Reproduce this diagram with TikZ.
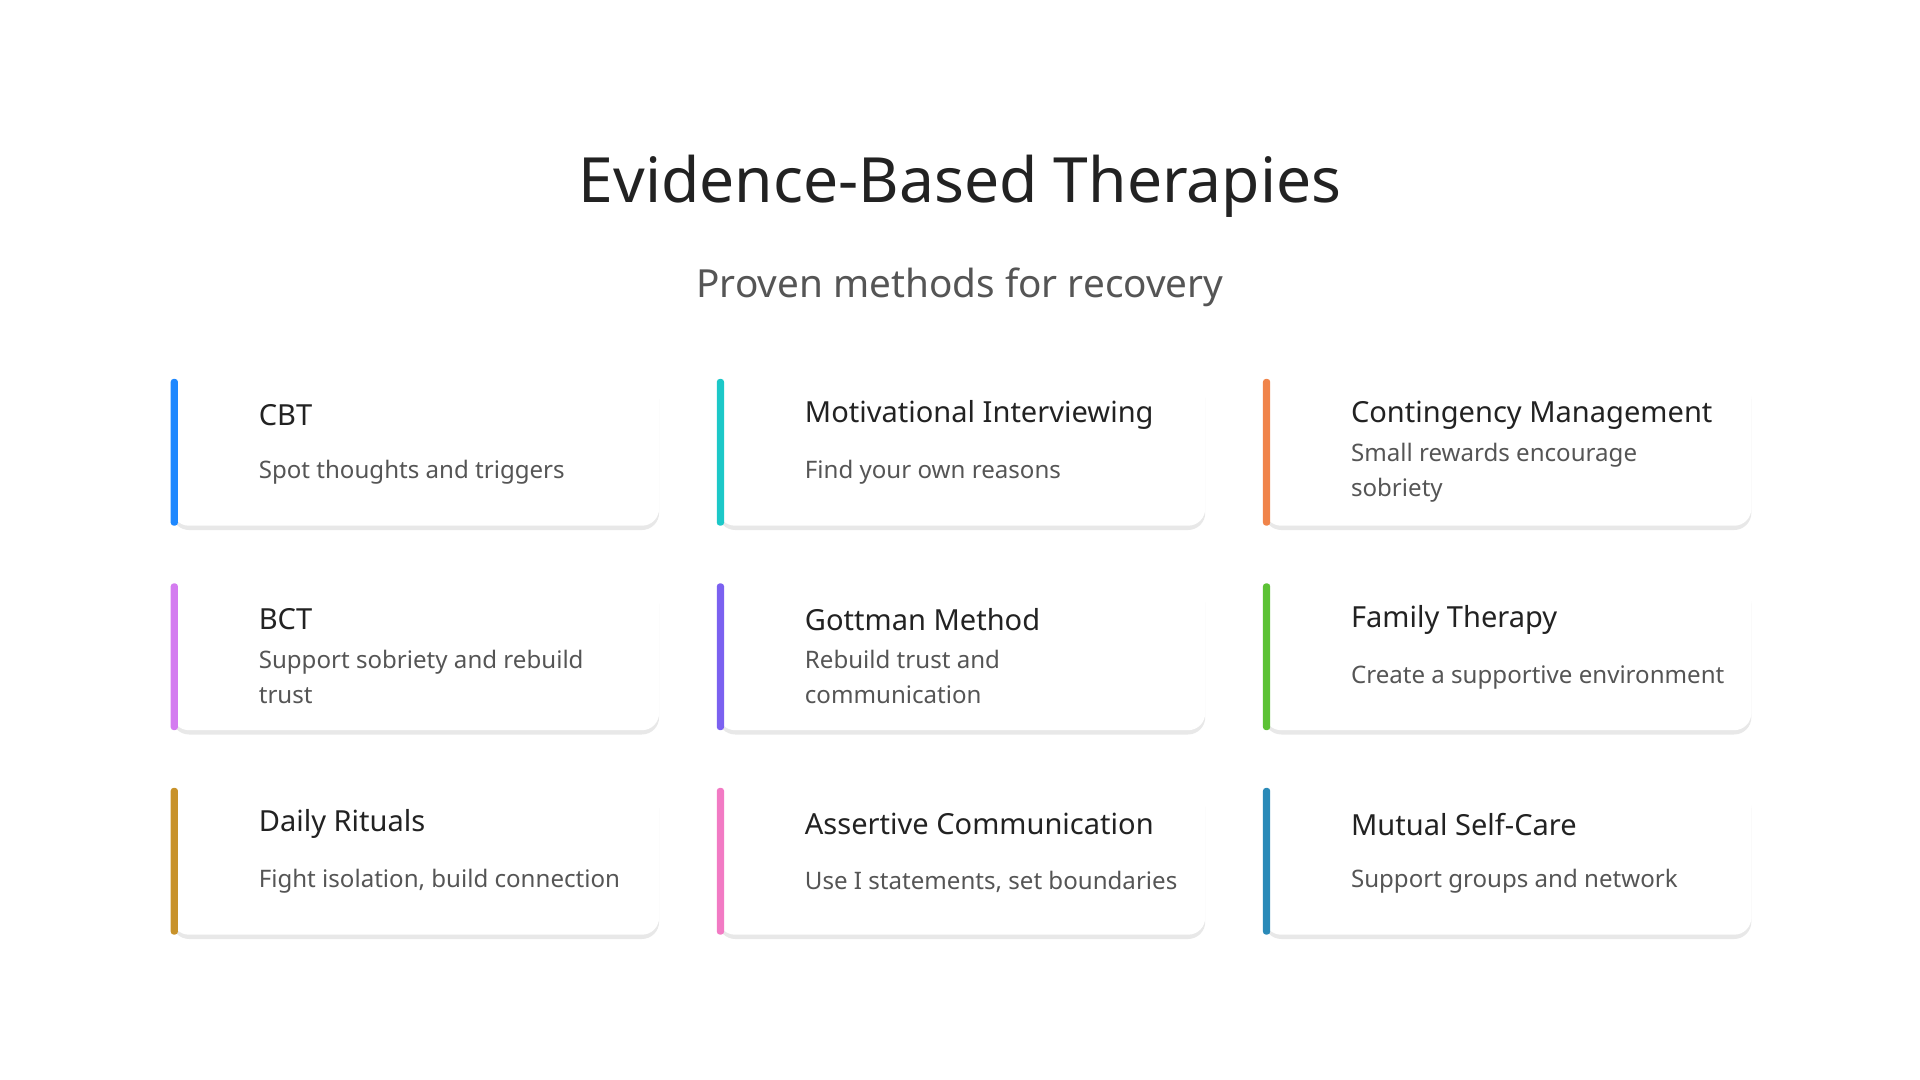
\documentclass[tikz,border=0pt]{standalone}
\usepackage{fontspec}
\setmainfont{Noto Sans}
\usetikzlibrary{shadows}
\definecolor{cblue}{HTML}{1E88FF}
\definecolor{cteal}{HTML}{1CC8C8}
\definecolor{corange}{HTML}{F0844A}
\definecolor{cviolet}{HTML}{D47CF0}
\definecolor{cpurple}{HTML}{7B61F0}
\definecolor{cgreen}{HTML}{5CC234}
\definecolor{cgold}{HTML}{C8922A}
\definecolor{cpink}{HTML}{F27AC4}
\definecolor{csteel}{HTML}{2A8AB8}
\definecolor{ink}{HTML}{222222}
\definecolor{soft}{HTML}{555555}
\tikzset{
  card/.style={draw=none, fill=white, rounded corners=8pt, minimum width=7.96cm,
    minimum height=2.4cm, anchor=north west, inner sep=0pt,
    drop shadow={shadow xshift=0pt, shadow yshift=-2pt, opacity=0.18, fill=gray}},
  bar/.style={fill=#1, rounded corners=1.5pt, minimum width=0.12cm, minimum height=2.4cm,
    anchor=north west, inner sep=0pt, draw=none},
  cardtitle/.style={anchor=west, inner sep=0pt, text=ink, font=\fontsize{13.5}{16}\selectfont\bfseries},
  carddesc/.style={anchor=west, inner sep=0pt, text=soft, align=left, font=\fontsize{11.2}{16}\selectfont}
}
\begin{document}
\begin{tikzpicture}[x=0.02cm, y=-0.02cm]
    \useasboundingbox (0,0) rectangle (1568,882);
    \node (title) [text=ink, font=\fontsize{29}{34}\selectfont] at (784,152) {Evidence-Based Therapies};
    \node (subtitle) [text=soft, font=\fontsize{18}{22}\selectfont] at (784,235) {Proven methods for recovery};

    \foreach \id/\cx/\cy/\col/\head/\desc in {
        cbt/140/309/cblue/CBT/Spot thoughts and triggers,
        mi/586/309/cteal/Motivational Interviewing/Find your own reasons,
        cm/1032/309/corange/Contingency Management/{Small rewards encourage\\sobriety},
        bct/140/476/cviolet/BCT/{Support sobriety and rebuild\\trust},
        gott/586/476/cpurple/Gottman Method/{Rebuild trust and\\communication},
        fam/1032/476/cgreen/Family Therapy/Create a supportive environment,
        ritual/140/643/cgold/Daily Rituals/{Fight isolation, build connection},
        assert/586/643/cpink/Assertive Communication/{Use I statements, set boundaries},
        care/1032/643/csteel/Mutual Self-Care/Support groups and network}{
      \node (\id) [card] at (\cx,\cy) {};
      \node (\id-bar) [bar=\col] at (\cx-1,\cy) {};
      \node (\id-head) [cardtitle] at (\cx+71,\cy+30) {\head};
      \node (\id-desc) [carddesc] at (\cx+71,\cy+77) {\desc};
    }
\end{tikzpicture}
\end{document}
